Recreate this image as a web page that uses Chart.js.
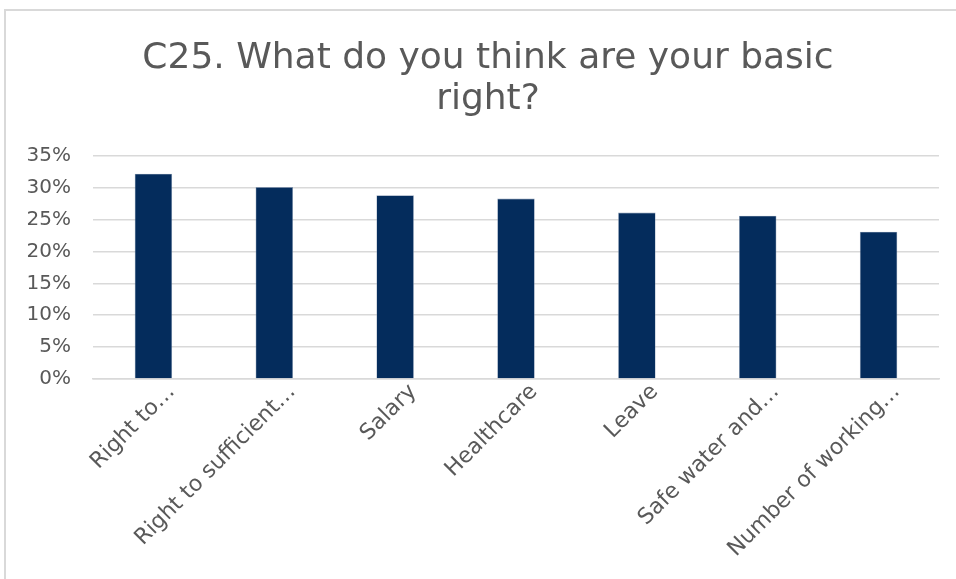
<!DOCTYPE html>
<html>
<head>
<meta charset="utf-8">
<script src="https://cdn.jsdelivr.net/npm/chart.js@4"></script>
<style>
    html, body { margin: 0; padding: 0; background: #fff; overflow: hidden; }
    body { width: 956px; height: 579px; position: relative; }
    #frame {
        position: absolute; left: 4px; top: 9px; width: 952px; height: 570px;
        border-left: 2px solid #d9d9d9; border-top: 2px solid #d9d9d9;
    }
    /* canvas runs past the right edge so the title sits a bit right of the plot centre */
    #wrap { position: absolute; left: 6px; top: 11px; width: 964px; height: 568px; }
</style>
</head>
<body>
<div id="frame"></div>
<div id="wrap"><canvas id="chart"></canvas></div>
<script>
const titleLines = ['C25. What do you think are your basic', 'right?'];
const categories = ['Right to…', 'Right to sufficient…', 'Salary', 'Healthcare', 'Leave', 'Safe water and…', 'Number of working…'];
const shares = [32.2, 30.1, 28.8, 28.3, 26.1, 25.6, 23.1];
const yTicks = [0, 5, 10, 15, 20, 25, 30, 35];

const fontFamily = '"DejaVu Sans", sans-serif';
const grey = '#595959';

new Chart(document.getElementById('chart'), {
    type: 'bar',
    data: {
        labels: categories,
        datasets: [{
            data: shares,
            yAxisID: 'y',
            backgroundColor: '#042c5c',
            borderColor: '#8a9bb3',
            borderWidth: 0.6,
            barPercentage: 0.31,
            categoryPercentage: 1
        }]
    },
    options: {
        responsive: true,
        maintainAspectRatio: false,
        animation: false,
        layout: { padding: 0 },
        plugins: {
            legend: { display: false },
            tooltip: { enabled: false },
            title: {
                display: true,
                text: titleLines,
                color: grey,
                font: { family: fontFamily, size: 36, weight: 'normal', lineHeight: 1.15 },
                padding: { top: 27, bottom: 35 }
            }
        },
        scales: {
            x: {
                grid: { display: false },
                border: { display: true, color: '#d9d9d9', width: 1.5 },
                ticks: {
                    color: grey,
                    font: { family: fontFamily, size: 22 },
                    minRotation: 45,
                    maxRotation: 45,
                    autoSkip: false,
                    labelOffset: 18,
                    padding: -8
                },
                afterFit(scale) { scale.height = 200; }
            },
            y: {
                min: 0,
                max: 35,
                afterBuildTicks(scale) { scale.ticks = yTicks.map(v => ({ value: v })); },
                grid: { color: '#d9d9d9', lineWidth: 1.5, drawTicks: false },
                border: { display: false },
                ticks: {
                    color: grey,
                    font: { family: fontFamily, size: 20 },
                    padding: 22,
                    callback: v => v + '%'
                },
                afterFit(scale) { scale.width = 87; }
            },
            // empty spacer on the right
            y2: {
                position: 'right',
                min: 0,
                max: 35,
                grid: { display: false, drawTicks: false },
                border: { display: false },
                ticks: { display: false },
                afterFit(scale) { scale.width = 31; }
            }
        }
    }
});
</script>
</body>
</html>
